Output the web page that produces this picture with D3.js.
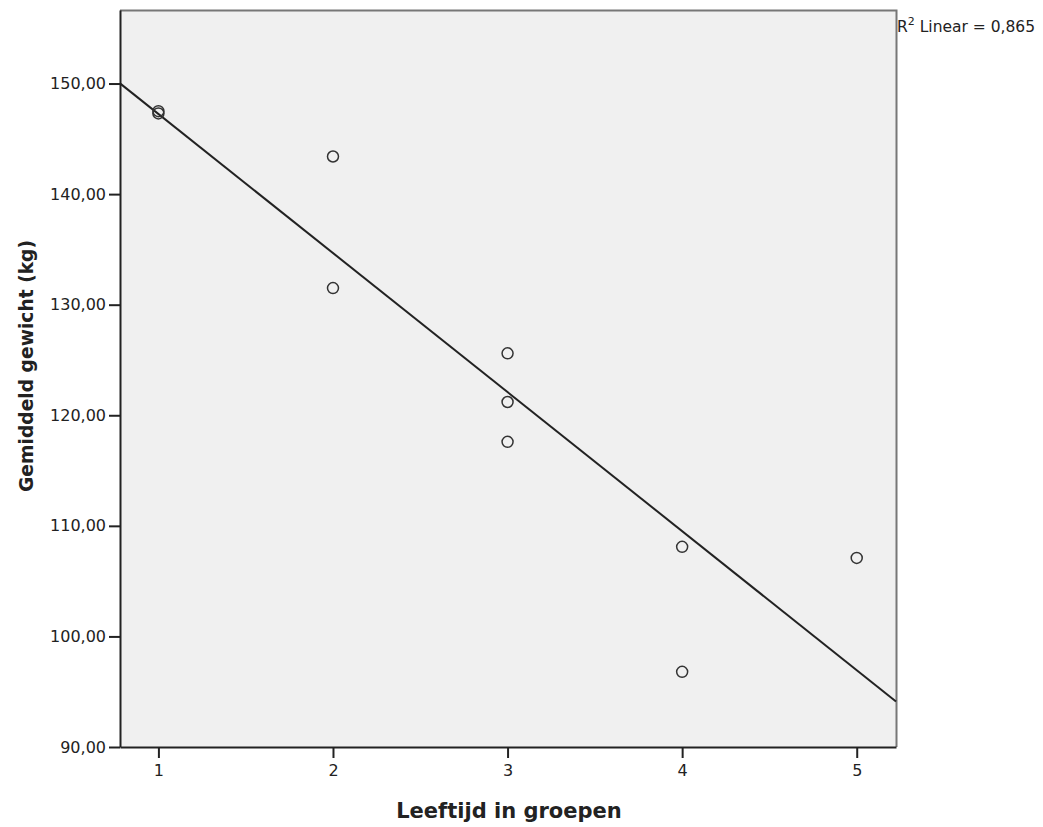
<!DOCTYPE html>
<html>
<head>
<meta charset="utf-8">
<script src="https://cdn.jsdelivr.net/npm/d3@7"></script>
<style>
  body { margin: 0; background: #fff; }
  text { font-family: "DejaVu Sans", Verdana, sans-serif; fill: #222; }
</style>
</head>
<body>
<div id="chart"></div>
<script>
// Data
var ageGroup = [1, 1, 2, 2, 3, 3, 3, 4, 4, 5];
var weight = [147.3, 147.5, 143.4, 131.5, 125.6, 121.2, 117.6, 108.1, 96.8, 107.1];
var xTicks = [1, 2, 3, 4, 5];
var yTicks = [90, 100, 110, 120, 130, 140, 150];
var r2Label = 'Linear = 0,865';

var W = 1043, H = 827;
var plotL = 120, plotR = 896, plotT = 10, plotB = 747;

var svg = d3.select('#chart').append('svg')
    .attr('width', W).attr('height', H);

var x = d3.scaleLinear().domain([0.78, 5.225]).range([plotL, plotR]);
var y = d3.scaleLinear().domain([90, 156.65]).range([plotB, plotT]);

// plot background
svg.append('rect').attr('x', plotL).attr('y', plotT)
    .attr('width', plotR - plotL).attr('height', plotB - plotT)
    .attr('fill', '#f0f0f0');

// top and right frame (lighter)
svg.append('path')
    .attr('d', 'M' + plotL + ',' + (plotT + 0.5) + 'H' + (plotR + 0.5) + 'V' + plotB)
    .attr('fill', 'none').attr('stroke', '#777').attr('stroke-width', 2);

// least squares fit line
var mx = d3.mean(ageGroup), my = d3.mean(weight);
var sxy = d3.sum(ageGroup, function(d, i) { return (d - mx) * (weight[i] - my); });
var sxx = d3.sum(ageGroup, function(d) { return (d - mx) * (d - mx); });
var slope = sxy / sxx, intercept = my - slope * mx;
var xd = x.domain();
svg.append('line')
    .attr('x1', x(xd[0])).attr('y1', y(intercept + slope * xd[0]))
    .attr('x2', x(xd[1])).attr('y2', y(intercept + slope * xd[1]))
    .attr('stroke', '#222').attr('stroke-width', 2);

// points
svg.append('g').selectAll('circle')
    .data(ageGroup).enter().append('circle')
    .attr('cx', function(d) { return x(d); })
    .attr('cy', function(d, i) { return y(weight[i]); })
    .attr('r', 5.5)
    .attr('fill', 'none').attr('stroke', '#333').attr('stroke-width', 1.5);

// axes
var fmt = function(d) { return d3.format('.2f')(d).replace('.', ','); };
var yAxis = svg.append('g').attr('transform', 'translate(' + plotL + ',0)')
    .call(d3.axisLeft(y).tickValues(yTicks).tickFormat(fmt)
      .tickSizeInner(11).tickSizeOuter(0).tickPadding(3));
var xAxis = svg.append('g').attr('transform', 'translate(0,' + plotB + ')')
    .call(d3.axisBottom(x).tickValues(xTicks).tickFormat(d3.format('d'))
      .tickSizeInner(11).tickSizeOuter(0).tickPadding(7));

[yAxis, xAxis].forEach(function(a) {
  a.select('.domain').attr('stroke', '#222').attr('stroke-width', 2);
  a.selectAll('.tick line').attr('stroke', '#222').attr('stroke-width', 2);
  a.selectAll('.tick text').attr('fill', '#222')
      .style('font-size', '16px').style('font-family', '"DejaVu Sans", Verdana, sans-serif');
});

// axis titles
svg.append('text')
    .attr('x', 509).attr('y', 818)
    .attr('text-anchor', 'middle')
    .style('font-size', '21px').style('font-weight', 'bold')
    .text('Leeftijd in groepen');

svg.append('text')
    .attr('transform', 'translate(33,366) rotate(-90)')
    .attr('text-anchor', 'middle')
    .style('font-size', '18.7px').style('font-weight', 'bold')
    .text('Gemiddeld gewicht (kg)');

// R squared label
var r2 = svg.append('text').attr('x', plotR + 1).attr('y', 32)
    .style('font-size', '15.5px');
r2.append('tspan').text('R');
r2.append('tspan').attr('dy', -7).style('font-size', '11px').text('2');
r2.append('tspan').attr('dy', 7).text(' ' + r2Label);
</script>
</body>
</html>
